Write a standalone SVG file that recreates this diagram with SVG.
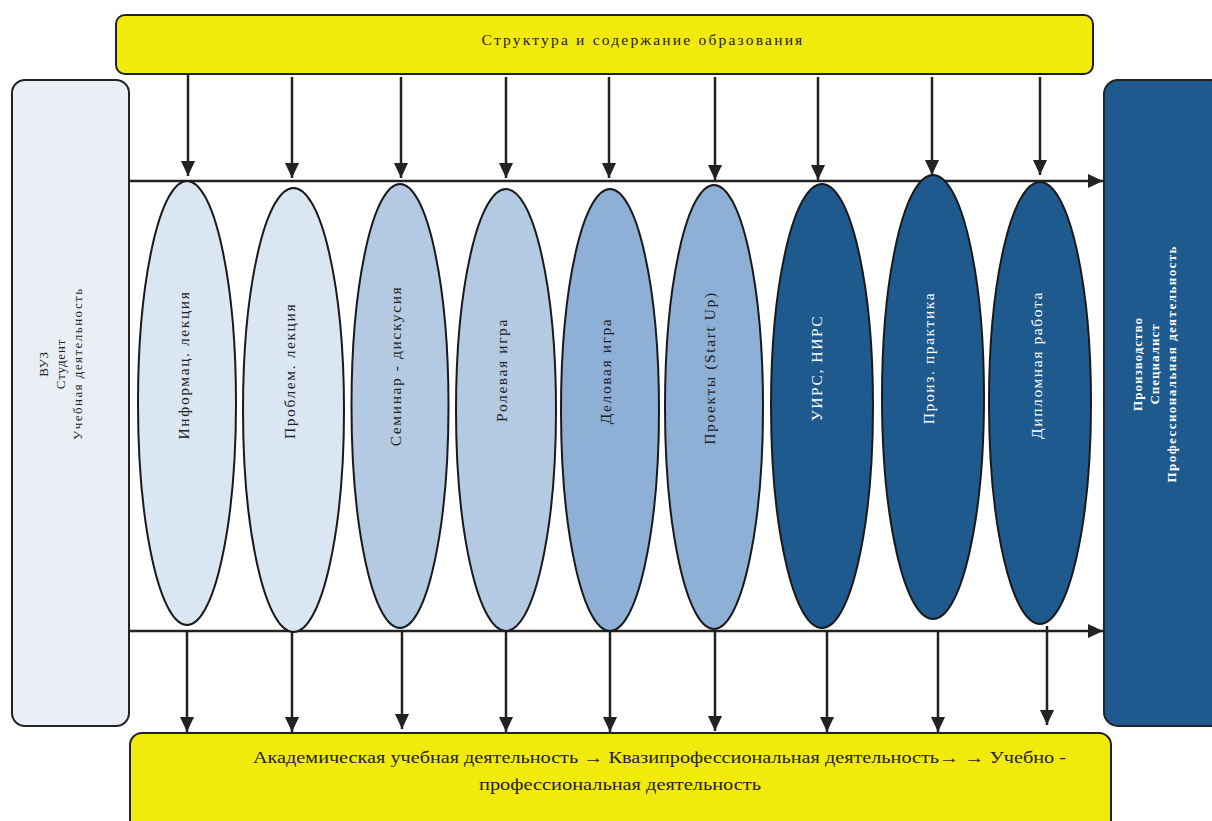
<svg xmlns="http://www.w3.org/2000/svg" width="1212" height="821" viewBox="0 0 1212 821">
<defs>
<style>
.box{stroke:#222;stroke-width:2}
.yel{fill:#f2ea0c}
.ell{stroke:#1a1a1a;stroke-width:2}
.c1{fill:#dae6f2}.c2{fill:#b4cae3}.c3{fill:#8eafd6}.c4{fill:#1e5a8e}
.t{font-family:"Liberation Serif","DejaVu Serif",serif;font-size:15.5px;fill:#222;letter-spacing:1.6px}
.th{font-family:"Liberation Serif","DejaVu Serif",serif;font-size:15.5px;fill:#222;letter-spacing:2.2px}
.tf{font-family:"Liberation Serif","DejaVu Serif",serif;font-size:16px;fill:#222}
.tw{fill:#ffffff}
.tb{font-family:"Liberation Serif","DejaVu Serif",serif;font-size:13px;fill:#fff;font-weight:bold;letter-spacing:1px}
.ts{font-family:"Liberation Serif","DejaVu Serif",serif;font-size:13px;fill:#222;letter-spacing:0.8px}
.ln{stroke:#222;stroke-width:2.5;fill:none}
</style>
<marker id="ah" markerUnits="userSpaceOnUse" markerWidth="16" markerHeight="16" viewBox="0 0 16 16" refX="15" refY="8" orient="auto">
<path d="M0,1 L15,8 L0,15 Z" fill="#222"/>
</marker>
</defs>
<rect width="1212" height="821" fill="#ffffff"/>

<g id="connectors">
<line class="ln" x1="129" y1="181" x2="1103" y2="181" marker-end="url(#ah)"/>
<line class="ln" x1="129" y1="631" x2="1103" y2="631" marker-end="url(#ah)"/>
<line class="ln" x1="188" y1="74" x2="188" y2="176" marker-end="url(#ah)"/>
<line class="ln" x1="292" y1="77" x2="292" y2="178" marker-end="url(#ah)"/>
<line class="ln" x1="401" y1="77" x2="401" y2="178" marker-end="url(#ah)"/>
<line class="ln" x1="506" y1="77" x2="506" y2="178" marker-end="url(#ah)"/>
<line class="ln" x1="609" y1="77" x2="609" y2="178" marker-end="url(#ah)"/>
<line class="ln" x1="715" y1="77" x2="715" y2="180" marker-end="url(#ah)"/>
<line class="ln" x1="818" y1="77" x2="818" y2="180" marker-end="url(#ah)"/>
<line class="ln" x1="932" y1="77" x2="932" y2="175" marker-end="url(#ah)"/>
<line class="ln" x1="1040" y1="77" x2="1040" y2="175" marker-end="url(#ah)"/>
<line class="ln" x1="187" y1="631" x2="187" y2="732" marker-end="url(#ah)"/>
<line class="ln" x1="292" y1="631" x2="292" y2="732" marker-end="url(#ah)"/>
<line class="ln" x1="402" y1="631" x2="402" y2="729" marker-end="url(#ah)"/>
<line class="ln" x1="506" y1="631" x2="506" y2="732" marker-end="url(#ah)"/>
<line class="ln" x1="610" y1="631" x2="610" y2="732" marker-end="url(#ah)"/>
<line class="ln" x1="715" y1="631" x2="715" y2="731" marker-end="url(#ah)"/>
<line class="ln" x1="827" y1="631" x2="827" y2="732" marker-end="url(#ah)"/>
<line class="ln" x1="938" y1="631" x2="938" y2="732" marker-end="url(#ah)"/>
<line class="ln" x1="1047" y1="626" x2="1047" y2="725" marker-end="url(#ah)"/>
</g>

<g id="top">
<rect class="box yel" x="116" y="15" width="977" height="59" rx="9"/>
<text class="th" x="643" y="45" text-anchor="middle">Структура и содержание образования</text>
</g>

<g id="bottom">
<rect class="box yel" x="130" y="733" width="981" height="100" rx="12"/>
<text class="tf" x="659.5" y="763" text-anchor="middle" textLength="813" lengthAdjust="spacingAndGlyphs">Академическая учебная деятельность → Квазипрофессиональная деятельность→  → Учебно -</text>
<text class="tf" x="620" y="790" text-anchor="middle" textLength="282" lengthAdjust="spacingAndGlyphs">профессиональная деятельность</text>
</g>

<g id="vuz">
<rect class="box" x="12" y="80" width="117" height="646" rx="13" fill="#eaeef5"/>
<g transform="translate(60,364) rotate(-90)" class="ts" text-anchor="middle">
<text x="0" y="-12">ВУЗ</text>
<text x="0" y="5">Студент</text>
<text x="0" y="22" textLength="152" lengthAdjust="spacing">Учебная деятельность</text>
</g>
</g>

<g id="production">
<rect class="box c4" x="1104" y="80" width="120" height="646" rx="14"/>
<g transform="translate(1154,364) rotate(-90)" class="tb" text-anchor="middle">
<text x="0" y="-12">Производство</text>
<text x="0" y="5">Специалист</text>
<text x="0" y="22" textLength="237" lengthAdjust="spacing">Профессиональная деятельность</text>
</g>
</g>

<g id="n1">
<ellipse class="ell c1" cx="187" cy="403" rx="49" ry="222"/>
<text class="t" transform="translate(189,365) rotate(-90)" text-anchor="middle">Информац. лекция</text>
</g>
<g id="n2">
<ellipse class="ell c1" cx="293.5" cy="410" rx="50.5" ry="222"/>
<text class="t" transform="translate(295,371) rotate(-90)" text-anchor="middle">Проблем. лекция</text>
</g>
<g id="n3">
<ellipse class="ell c2" cx="400" cy="406" rx="48.5" ry="222"/>
<text class="t" transform="translate(401,366) rotate(-90)" text-anchor="middle">Семинар - дискусия</text>
</g>
<g id="n4">
<ellipse class="ell c2" cx="506" cy="410" rx="50" ry="221"/>
<text class="t" transform="translate(507,370) rotate(-90)" text-anchor="middle">Ролевая игра</text>
</g>
<g id="n5">
<ellipse class="ell c3" cx="610" cy="410" rx="49" ry="221"/>
<text class="t" transform="translate(611,371) rotate(-90)" text-anchor="middle">Деловая игра</text>
</g>
<g id="n6">
<ellipse class="ell c3" cx="714" cy="407" rx="49" ry="222"/>
<text class="t" transform="translate(715,368) rotate(-90)" text-anchor="middle">Проекты (Start Up)</text>
</g>
<g id="n7">
<ellipse class="ell c4" cx="822" cy="406" rx="51" ry="222"/>
<text class="t tw" transform="translate(822,368) rotate(-90)" text-anchor="middle">УИРС, НИРС</text>
</g>
<g id="n8">
<ellipse class="ell c4" cx="933" cy="397" rx="51" ry="222"/>
<text class="t tw" transform="translate(934,358) rotate(-90)" text-anchor="middle">Произ. практика</text>
</g>
<g id="n9">
<ellipse class="ell c4" cx="1040" cy="403" rx="51" ry="221"/>
<text class="t tw" transform="translate(1042,365) rotate(-90)" text-anchor="middle">Дипломная работа</text>
</g>
</svg>
